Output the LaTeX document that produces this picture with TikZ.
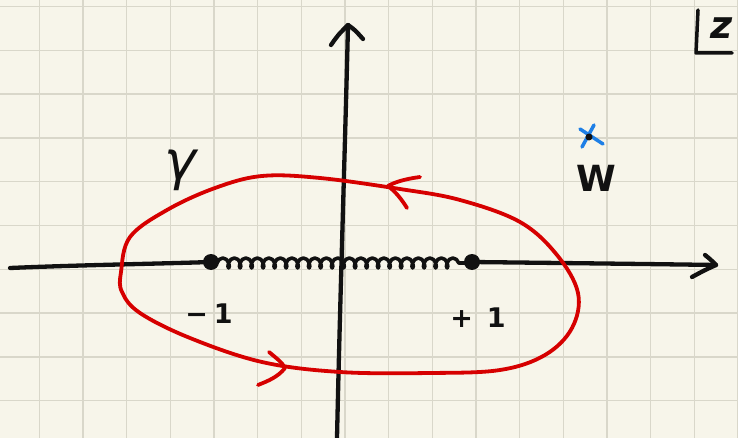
\documentclass[tikz,border=0pt]{standalone}
\usepackage{fontspec}
\setmainfont{DejaVu Sans}
\usetikzlibrary{decorations.pathmorphing}
\definecolor{paper}{HTML}{F7F5EA}
\definecolor{gridc}{HTML}{D9D7CA}
\definecolor{ink}{HTML}{111111}
\definecolor{redink}{HTML}{D60000}
\definecolor{blueink}{HTML}{1E7FE6}
\begin{document}
\begin{tikzpicture}[x=1pt,y=-1pt, line cap=round, line join=round,
  axis/.style={ink, line width=4.3pt},
  contour/.style={redink, line width=3.8pt},
  lbl/.style={ink, inner sep=0pt}]
\useasboundingbox (0,0) rectangle (738,438);
\fill[paper] (0,0) rectangle (738,438);
\foreach \i in {0,...,16} \draw[gridc, line width=1.4pt] ({39.3+43.67*\i},0) -- ({39.3+43.67*\i},438);
\foreach \j in {0,...,9} \draw[gridc, line width=1.4pt] (0,{6.5+43.8*\j}) -- (738,{6.5+43.8*\j});

% points
\coordinate (m) at (211,262);
\coordinate (p) at (472,262);
\coordinate (xl) at (10,268);
\coordinate (xr) at (716,265);
\coordinate (yb) at (337,438);
\coordinate (yt) at (348,25);

% axes
\draw[axis] (xl) .. controls (80,265) and (150,264) .. (m);
\draw[axis] (p) .. controls (560,263) and (650,264) .. (xr);
\draw[axis] (705,255) .. controls (710,259) .. (xr) .. controls (705,270) .. (692,277);
\draw[axis] (yb) .. controls (340,300) and (345,150) .. (yt);
\draw[axis] (331,45) .. controls (338,35) .. (yt) .. controls (355,30) .. (363,39);

% branch cut
\draw[ink, line width=3.6pt, decorate, decoration={coil, amplitude=5pt, segment length=11.5pt, aspect=0.6}] (217,263) -- (466,263);
\fill[ink] (m) circle (8pt);
\fill[ink] (p) circle (8pt);

% contour
\draw[contour] plot[smooth cycle, tension=0.6] coordinates {
 (121,272) (130,237) (167,210) (215,188) (262,176) (320,178) (400,189) (460,200)
 (520,222) (557,255) (578,293) (572,328) (545,355) (500,370) (430,373) (340,372)
 (262,362) (190,338) (140,313) (122,292)};
\draw[contour] (420,177) .. controls (405,179) and (395,182) .. (388,186) .. controls (396,192) and (402,200) .. (407,208);
\draw[contour] (269,352) .. controls (276,358) and (282,362) .. (285,368) .. controls (278,377) and (268,381) .. (258,385);

% labels
\node[lbl, font=\bfseries\fontsize{27}{27}\selectfont] (lm) at (209,314) {−\hspace{6pt}1};
\node[lbl, font=\bfseries\fontsize{27}{27}\selectfont] (lp) at (478,318) {+\hspace{14pt}1};
\node[lbl, font=\itshape\fontsize{54}{54}\selectfont] (g) at (180,170) {γ};
\node[lbl, font=\bfseries\fontsize{36}{36}\selectfont] (w) at (596,178) {W};
\node[lbl, font=\bfseries\itshape\fontsize{38}{38}\selectfont] (z) at (722,28) {z};
\draw[ink, line width=3.5pt] (698,10) -- (696,53) -- (732,53);

% point w
\draw[blueink, line width=3.5pt] (580,129) -- (603,144);
\draw[blueink, line width=3.5pt] (594,125) -- (582,147);
\fill[ink] (589,137) circle (3.5pt);
\end{tikzpicture}
\end{document}
